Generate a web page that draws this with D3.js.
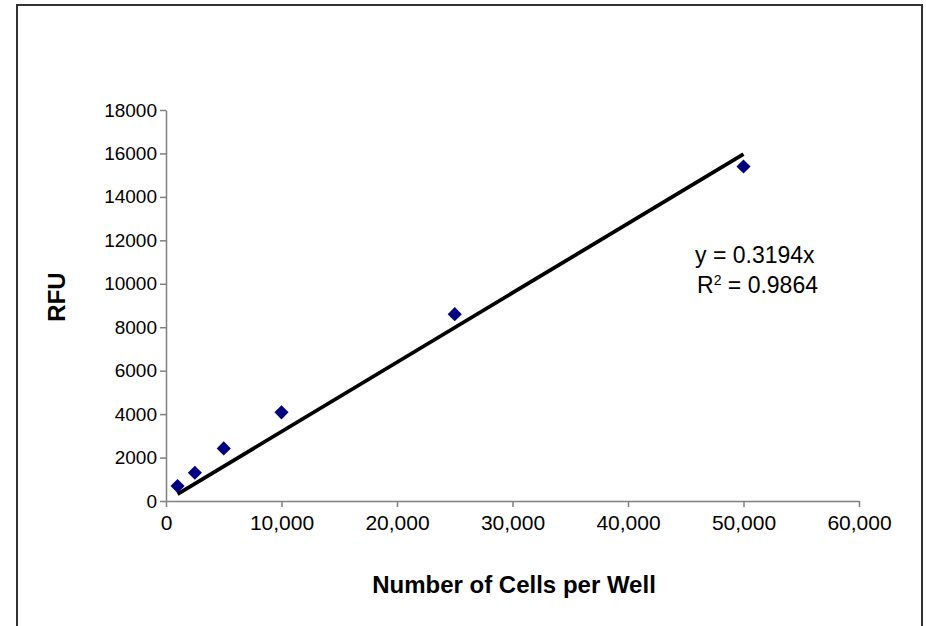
<!DOCTYPE html>
<html><head><meta charset="utf-8">
<script src="https://cdn.jsdelivr.net/npm/d3@7"></script>
<style>body{margin:0;background:#fff}svg{display:block}text{font-family:"Liberation Sans",Arial,sans-serif}</style>
</head><body><svg id="c" width="926" height="626"></svg>
<script>
const cells = [1000, 2500, 5000, 10000, 25000, 50000];
const rfu = [690, 1300, 2420, 4080, 8600, 15400];
const slope = 0.3194;
const trendRange = [1000, 50000];
const xTicks = [0, 10000, 20000, 30000, 40000, 50000, 60000];
const yTicks = [0, 2000, 4000, 6000, 8000, 10000, 12000, 14000, 16000, 18000];
const eqLines = ["y = 0.3194x", "R", "2", " = 0.9864"];

const svg = d3.select("#c");
const x = d3.scaleLinear().domain([0, 60000]).range([166, 859]);
const y = d3.scaleLinear().domain([0, 18000]).range([501, 110]);

// outer frame
svg.append("path").attr("d","M17,640 L17,5 L922,5 L922,640")
  .attr("fill","none").attr("stroke","#333").attr("stroke-width",2);

const fmtX = d3.format(",");
const gx = svg.append("g").attr("transform","translate(0,501)")
  .call(d3.axisBottom(x).tickValues(xTicks).tickFormat(d => d===0?"0":fmtX(d)).tickSize(6).tickSizeOuter(0).tickPadding(8));
const gy = svg.append("g").attr("transform","translate(166,0)")
  .call(d3.axisLeft(y).tickValues(yTicks).tickFormat(d3.format("d")).tickSize(6).tickSizeOuter(0).tickPadding(3));
[gx, gy].forEach(g => {
  g.select(".domain").attr("stroke","#808080").attr("stroke-width",1.5);
  g.selectAll(".tick line").attr("stroke","#808080").attr("stroke-width",1.5);
  g.selectAll(".tick text").attr("fill","#000").attr("font-family","Liberation Sans, Arial, sans-serif");
});
gx.selectAll(".tick text").attr("font-size",21);
gy.selectAll(".tick text").attr("font-size",19);

// trendline
svg.append("line")
  .attr("x1", x(trendRange[0])).attr("y1", y(slope*trendRange[0]))
  .attr("x2", x(trendRange[1])).attr("y2", y(slope*trendRange[1]))
  .attr("stroke","#000").attr("stroke-width",3.8);

// points
svg.selectAll("path.pt").data(cells.map((c,i)=>[c,rfu[i]])).join("path")
  .attr("class","pt")
  .attr("d", d3.symbol(d3.symbolSquare, 100))
  .attr("transform", d => `translate(${x(d[0])},${y(d[1])}) rotate(45)`)
  .attr("fill","#000080");

// equation
svg.append("text").attr("x",695).attr("y",263).attr("font-size",23).text(eqLines[0]);
const t2 = svg.append("text").attr("x",697).attr("y",293).attr("font-size",23);
t2.append("tspan").text(eqLines[1]);
t2.append("tspan").attr("font-size",14).attr("dy",-8).text(eqLines[2]);
t2.append("tspan").attr("dy",8).text(eqLines[3]);

// axis titles
svg.append("text").attr("x",514).attr("y",593).attr("text-anchor","middle")
  .attr("font-size",24).attr("font-weight","bold").text("Number of Cells per Well");
svg.append("text").attr("transform","translate(65,297) rotate(-90)").attr("text-anchor","middle")
  .attr("font-size",24).attr("font-weight","bold").text("RFU");
</script></body></html>
